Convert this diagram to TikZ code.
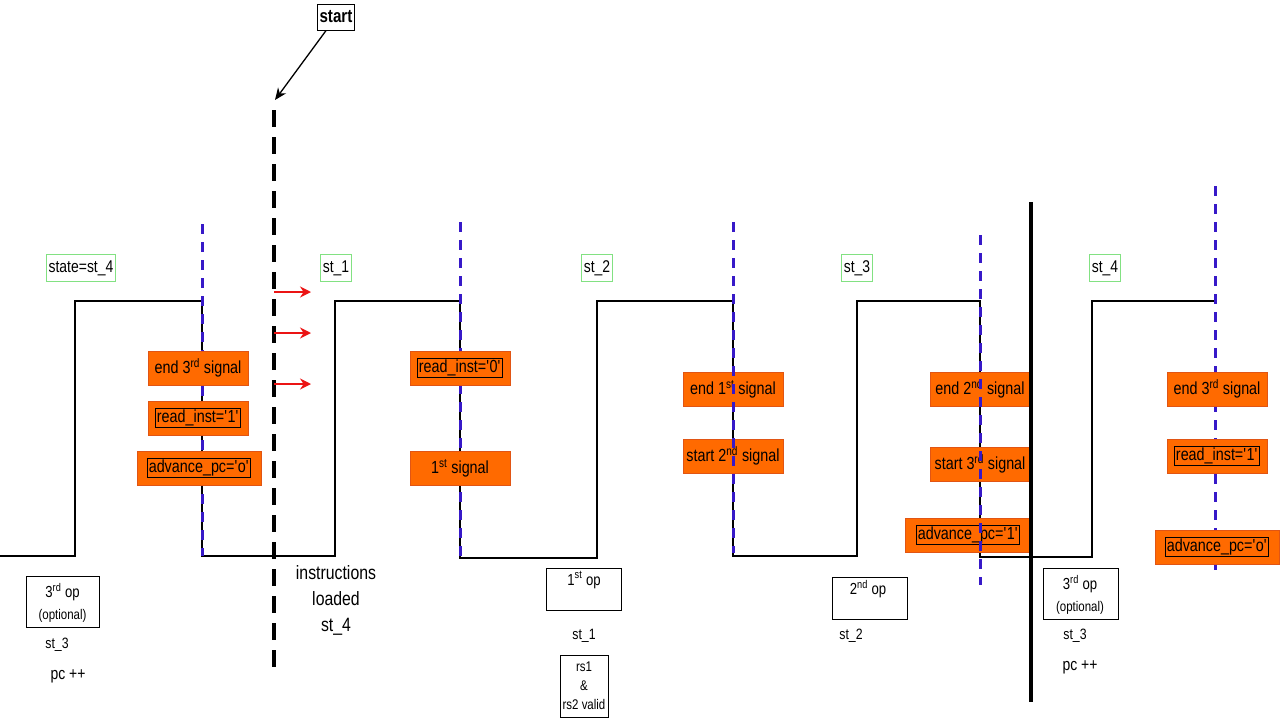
\documentclass[tikz,border=0pt]{standalone}
\usepackage{fontspec}
\setmainfont{Liberation Sans}[FakeStretch=0.82]
\usetikzlibrary{arrows.meta}
\definecolor{ofill}{RGB}{255,106,0}
\definecolor{oline}{RGB}{225,85,20}
\definecolor{glab}{RGB}{130,225,130}
\definecolor{clkblue}{RGB}{55,25,200}
\definecolor{redarr}{RGB}{235,20,20}
\newcommand\ibox[1]{{\setlength\fboxsep{0.5pt}\setlength\fboxrule{1.3pt}\fbox{#1}}}
\newcommand\sq{\textquotesingle}
\begin{document}
\begin{tikzpicture}[x=1pt,y=-1pt,
  obox/.style={fill=ofill, draw=oline, line width=1pt, minimum width=100pt, minimum height=34pt, inner sep=2pt, font=\fontsize{17.5}{19}\selectfont},
  glabel/.style={draw=glab, line width=1pt, inner sep=2pt, minimum height=27pt, font=\fontsize{17}{19}\selectfont},
  wbox/.style={draw, line width=1pt, inner sep=0pt},
  wave/.style={line width=1.5pt},
  clk/.style={draw=clkblue, line width=3pt, dash pattern=on 10pt off 8pt},
  startline/.style={line width=4pt, dash pattern=on 17pt off 10pt},
  rarrow/.style={draw=redarr, line width=1.6pt, -{Stealth[length=11pt,width=11pt]}},
  txt/.style={inner sep=0pt, font=\fontsize{15}{17}\selectfont}
]
\useasboundingbox (0,0) rectangle (1280,720);

% waveform
\draw[wave] (0,556) -- (75,556) -- (75,301) -- (202,301) -- (202,556) -- (335,556) -- (335,301) -- (460,301) -- (460,558) -- (597,558) -- (597,301) -- (733,301) -- (733,556) -- (857,556) -- (857,301) -- (980,301) -- (980,557) -- (1092,557) -- (1092,301) -- (1215,301);

% clock lines drawn under boxes
\coordinate (c1t) at (202,224); \coordinate (c1b) at (202,556);
\coordinate (c2t) at (460,222); \coordinate (c2b) at (460,556);
\coordinate (c5t) at (1215,186); \coordinate (c5b) at (1215,570);
\draw[clk] (c1t) -- (c1b);
\draw[clk] (c2t) -- (c2b);
\draw[clk] (c5t) -- (c5b);

% state labels
\node[glabel] (s4a) at (81,268) {state=st\_4};
\node[glabel] (s1) at (336,268) {st\_1};
\node[glabel] (s2) at (597,268) {st\_2};
\node[glabel] (s3) at (857,268) {st\_3};
\node[glabel] (s4b) at (1105,268) {st\_4};

% orange boxes
\node[obox] (a1) at (198,368) {end 3\textsuperscript{rd} signal};
\node[obox] (a2) at (198,418) {\ibox{read\_inst=\sq1\sq}};
\node[obox, minimum width=124pt] (a3) at (199,468) {\ibox{advance\_pc=\sq o\sq}};

\node[obox] (b1) at (460,368) {\ibox{read\_inst=\sq0\sq}};
\node[obox] (b2) at (460,468) {1\textsuperscript{st} signal};

\node[obox] (d1) at (733,389) {end 1\textsuperscript{st} signal};
\node[obox] (d2) at (733,456) {start 2\textsuperscript{nd} signal};

\node[obox] (e1) at (980,389) {end 2\textsuperscript{nd} signal};
\node[obox] (e2) at (980,464) {start 3\textsuperscript{rd} signal};
\node[obox, minimum width=125pt] (e3) at (968,535) {\ibox{advance\_pc=\sq1\sq}};

\node[obox] (f1) at (1217,389) {end 3\textsuperscript{rd} signal};
\node[obox] (f2) at (1217,456) {\ibox{read\_inst=\sq1\sq}};
\node[obox, minimum width=124pt] (f3) at (1217,547) {\ibox{advance\_pc=\sq o\sq}};

% clock lines drawn over boxes
\coordinate (c3t) at (733,222); \coordinate (c3b) at (733,553);
\coordinate (c4t) at (980,235); \coordinate (c4b) at (980,585);
\draw[clk] (c3t) -- (c3b);
\draw[clk] (c4t) -- (c4b);

% thick black separator
\coordinate (sepT) at (1031,202); \coordinate (sepB) at (1031,702);
\draw[line width=3.5pt] (sepT) -- (sepB);

% start marker
\node[draw, line width=1pt, inner sep=2pt, minimum height=26pt, font=\bfseries\fontsize{18.5}{20}\selectfont] (start) at (336,17) {start};
\coordinate (slT) at (274,110); \coordinate (slB) at (274,668);
\coordinate (sarr) at (275,100);
\draw[startline] (slT) -- (slB);
\draw[line width=1.3pt, -{Stealth[length=12pt,width=10pt]}] (start) -- (sarr);

% red arrows
\coordinate (r1a) at (274,292); \coordinate (r1b) at (311,292);
\coordinate (r2a) at (274,333); \coordinate (r2b) at (311,333);
\coordinate (r3a) at (274,384); \coordinate (r3b) at (311,384);
\draw[rarrow] (r1a) -- (r1b);
\draw[rarrow] (r2a) -- (r2b);
\draw[rarrow] (r3a) -- (r3b);

% bottom annotations
\node[wbox, minimum width=73pt, minimum height=51pt] (op3a) at (62.5,601.5) {};
\node[txt, font=\fontsize{16}{18}\selectfont] (op3at) at (62.5,592) {3\textsuperscript{rd} op};
\node[txt, font=\fontsize{14}{16}\selectfont] (op3ao) at (62.5,616) {(optional)};
\node[txt] (st3a) at (57,645) {st\_3};
\node[txt, font=\fontsize{17}{19}\selectfont] (pca) at (68,676) {pc ++};

\node[txt, align=center, font=\fontsize{19.3}{26}\selectfont] (instr) at (336,600) {instructions\\loaded\\st\_4};

\node[wbox, minimum width=75pt, minimum height=42pt] (op1) at (583.5,589) {};
\node[txt, font=\fontsize{16}{18}\selectfont] (op1t) at (584,580) {1\textsuperscript{st} op};
\node[txt] (st1) at (584,636) {st\_1};
\node[wbox, minimum width=48pt, minimum height=62pt, align=center, font=\fontsize{14}{19}\selectfont] (rs) at (584,686) {rs1\\\&\\rs2 valid};

\node[wbox, minimum width=75pt, minimum height=42pt] (op2) at (869.5,598) {};
\node[txt, font=\fontsize{16}{18}\selectfont] (op2t) at (868,589) {2\textsuperscript{nd} op};
\node[txt] (st2) at (851,636) {st\_2};

\node[wbox, minimum width=75pt, minimum height=51pt] (op3b) at (1080.5,593.5) {};
\node[txt, font=\fontsize{16}{18}\selectfont] (op3bt) at (1080,584) {3\textsuperscript{rd} op};
\node[txt, font=\fontsize{14}{16}\selectfont] (op3bo) at (1080,608) {(optional)};
\node[txt] (st3b) at (1075,636) {st\_3};
\node[txt, font=\fontsize{17}{19}\selectfont] (pcb) at (1080,667) {pc ++};
\end{tikzpicture}
\end{document}
